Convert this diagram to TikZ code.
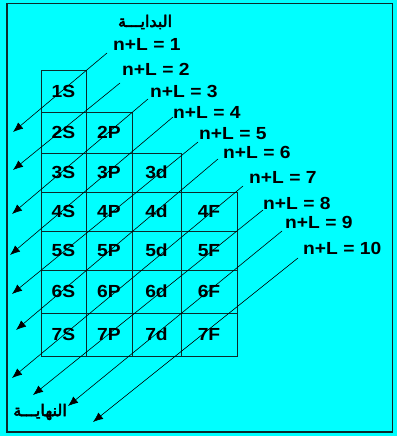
\documentclass[tikz,border=0pt]{standalone}
\usepackage{fontspec}
\usepackage{tikz}
\usetikzlibrary{arrows.meta}
\setmainfont{Liberation Sans}
\newfontfamily\labfont[FakeStretch=1.1]{Liberation Sans}
\newfontfamily\arabicfont[Script=Arabic, FakeBold=3]{DejaVu Sans}
\TeXXeTstate=1
\definecolor{ChartCyan}{HTML}{00FFFF}
\definecolor{GridInk}{HTML}{0B2B2B}

\begin{document}
\begin{tikzpicture}[x=1pt, y=-1pt, every node/.style={font=\labfont\bfseries\fontsize{17.5}{20}\selectfont}]
\tikzstyle{cell}=[draw=GridInk, line width=0.9pt, inner sep=0pt, outer sep=0pt]
\tikzstyle{wa}=[minimum width=45pt]
\tikzstyle{wb}=[minimum width=46pt]
\tikzstyle{wc}=[minimum width=49pt]
\tikzstyle{wd}=[minimum width=56pt]
\tikzstyle{rule}=[anchor=west, inner sep=0pt]
\tikzstyle{arrow}=[-{Latex[length=10pt,width=8pt]}, line width=0.6pt]
\tikzstyle{arab}=[font=\arabicfont\fontsize{16}{18}\selectfont, inner sep=0pt]
% background and frame
\fill[ChartCyan] (0,0) rectangle (397,436);
\useasboundingbox (0,0) rectangle (397,436);
\draw[GridInk, line width=1.6pt] (7,3.5) rectangle (392.5,432);
% cells
\node[cell, wa, minimum height=42pt] (c1s) at (63.5,91) {1S};
\node[cell, wa, minimum height=41pt] (c2s) at (63.5,132.5) {2S};
\node[cell, wb, minimum height=41pt] (c2p) at (109,132.5) {2P};
\node[cell, wa, minimum height=39pt] (c3s) at (63.5,172.5) {3S};
\node[cell, wb, minimum height=39pt] (c3p) at (109,172.5) {3P};
\node[cell, wc, minimum height=39pt] (c3d) at (156.5,172.5) {3d};
\node[cell, wa, minimum height=39pt] (c4s) at (63.5,211.5) {4S};
\node[cell, wb, minimum height=39pt] (c4p) at (109,211.5) {4P};
\node[cell, wc, minimum height=39pt] (c4d) at (156.5,211.5) {4d};
\node[cell, wd, minimum height=39pt] (c4f) at (209,211.5) {4F};
\node[cell, wa, minimum height=39pt] (c5s) at (63.5,250.5) {5S};
\node[cell, wb, minimum height=39pt] (c5p) at (109,250.5) {5P};
\node[cell, wc, minimum height=39pt] (c5d) at (156.5,250.5) {5d};
\node[cell, wd, minimum height=39pt] (c5f) at (209,250.5) {5F};
\node[cell, wa, minimum height=43pt] (c6s) at (63.5,291.5) {6S};
\node[cell, wb, minimum height=43pt] (c6p) at (109,291.5) {6P};
\node[cell, wc, minimum height=43pt] (c6d) at (156.5,291.5) {6d};
\node[cell, wd, minimum height=43pt] (c6f) at (209,291.5) {6F};
\node[cell, wa, minimum height=43pt] (c7s) at (63.5,334.5) {7S};
\node[cell, wb, minimum height=43pt] (c7p) at (109,334.5) {7P};
\node[cell, wc, minimum height=43pt] (c7d) at (156.5,334.5) {7d};
\node[cell, wd, minimum height=43pt] (c7f) at (209,334.5) {7F};
% rule labels
\node[arab] (begin) at (145,22) {\beginR البدايـــة\endR};
\node[arab] (finish) at (40,412) {\beginR النهايـــة\endR};
\node[rule] (l1) at (113,44) {n+L = 1};
\node[rule] (l2) at (122,69) {n+L = 2};
\node[rule] (l3) at (150,91) {n+L = 3};
\node[rule] (l4) at (173,112) {n+L = 4};
\node[rule] (l5) at (199,134) {n+L = 5};
\node[rule] (l6) at (223,152) {n+L = 6};
\node[rule] (l7) at (249,177) {n+L = 7};
\node[rule] (l8) at (263,203) {n+L = 8};
\node[rule] (l9) at (285,222) {n+L = 9};
\node[rule] (l10) at (303,248) {n+L = 10};
% diagonals
\coordinate (s1) at (107,53);   \coordinate (e1) at (13,132);
\coordinate (s2) at (120,83);   \coordinate (e2) at (13,170);
\coordinate (s3) at (148,99);   \coordinate (e3) at (12,214);
\coordinate (s4) at (173,117);  \coordinate (e4) at (10,255);
\coordinate (s5) at (198,142);  \coordinate (e5) at (12,294);
\coordinate (s6) at (218,159);  \coordinate (e6) at (16,330);
\coordinate (s7) at (243,186);  \coordinate (e7) at (12,378);
\coordinate (s8) at (263,210);  \coordinate (e8) at (33,395);
\coordinate (s9) at (282,231);  \coordinate (e9) at (68,406);
\coordinate (s10) at (298,258); \coordinate (e10) at (93,422);
\draw[arrow] (s1)--(e1);
\draw[arrow] (s2)--(e2);
\draw[arrow] (s3)--(e3);
\draw[arrow] (s4)--(e4);
\draw[arrow] (s5)--(e5);
\draw[arrow] (s6)--(e6);
\draw[arrow] (s7)--(e7);
\draw[arrow] (s8)--(e8);
\draw[arrow] (s9)--(e9);
\draw[arrow] (s10)--(e10);
\end{tikzpicture}
\end{document}
